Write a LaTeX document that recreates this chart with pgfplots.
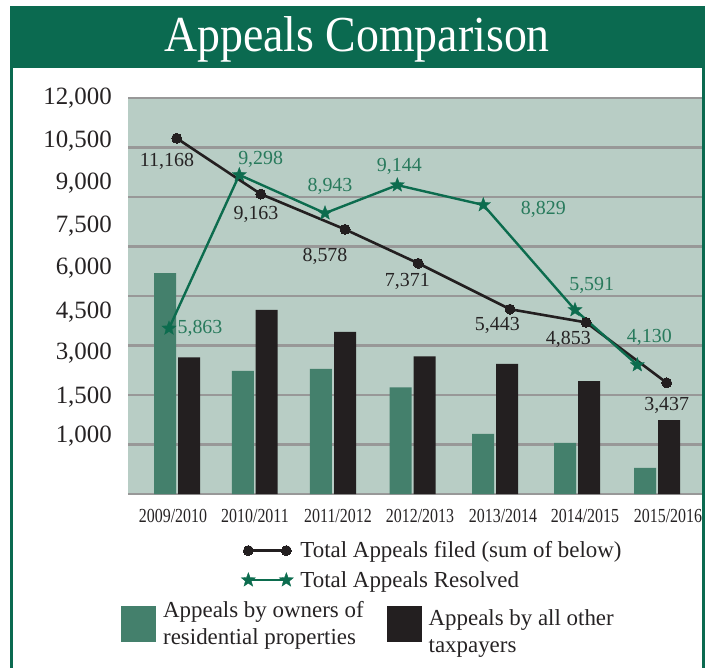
\documentclass[border=0pt]{standalone}
\usepackage{fontspec}
\setmainfont{Liberation Serif}
\usepackage{graphicx}
\usepackage{pgfplots}
\usepackage{pgfplotstable}
\pgfplotsset{compat=1.18}
\definecolor{banner}{RGB}{11,106,80}
\definecolor{plotbg}{RGB}{184,205,197}
\definecolor{gridc}{RGB}{152,152,152}
\definecolor{gbar}{RGB}{68,128,108}
\definecolor{bbar}{RGB}{35,31,32}
\definecolor{gline}{RGB}{12,108,78}
\definecolor{gtxt}{RGB}{40,122,92}
\definecolor{txt}{RGB}{38,35,36}

\pgfdeclareplotmark{fstar}{%
  \pgfpathmoveto{\pgfpointpolar{90}{\pgfplotmarksize}}%
  \pgfpathlineto{\pgfpointpolar{126}{0.42\pgfplotmarksize}}%
  \pgfpathlineto{\pgfpointpolar{162}{\pgfplotmarksize}}%
  \pgfpathlineto{\pgfpointpolar{198}{0.42\pgfplotmarksize}}%
  \pgfpathlineto{\pgfpointpolar{234}{\pgfplotmarksize}}%
  \pgfpathlineto{\pgfpointpolar{270}{0.42\pgfplotmarksize}}%
  \pgfpathlineto{\pgfpointpolar{306}{\pgfplotmarksize}}%
  \pgfpathlineto{\pgfpointpolar{342}{0.42\pgfplotmarksize}}%
  \pgfpathlineto{\pgfpointpolar{18}{\pgfplotmarksize}}%
  \pgfpathlineto{\pgfpointpolar{54}{0.42\pgfplotmarksize}}%
  \pgfpathclose
  \pgfusepathqfillstroke
}

% total appeals filed (line points)
\pgfplotstableread{
x y
176.7 10780
260.7 9090
345 8020
418.3 6990
510 5600
586 5200
666.7 3370
}\filed
% their value labels (label centres)
\pgfplotstableread{
x y label
167 10071 11,168
256 8475 9,163
325 7190 8,578
407.3 6432 7,371
497.3 5094 5,443
568.3 4685 4,853
666.7 2694 3,437
}\filedlab
% total appeals resolved
\pgfplotstableread{
x y
169 5020
239.3 9670
325 8510
397.3 9360
483.3 8760
575 5580
637.3 3910
}\resolved
\pgfplotstableread{
x y label
200 5020 5,863
260.7 10125 9,298
330 9316 8,943
399.3 9915 9,144
543.3 8639 8,829
591.7 6307 5,591
649.3 4749 4,130
}\resolvedlab
% residential owners
\pgfplotstableread{
x y
165 6690
242.8 3730
320.8 3790
400.5 3230
483 1820
565 1550
645 790
}\resid
% all other taxpayers
\pgfplotstableread{
x y
189 4140
266.7 5580
345 4910
424.5 4170
507 3940
589 3420
669 2240
}\other

\newcommand\xl[1]{\scalebox{0.8}[1]{#1}}

\begin{document}
\begin{tikzpicture}
\useasboundingbox (0bp,0bp) rectangle (705bp,-668bp);
\fill[white] (0bp,0bp) rectangle (705bp,-668bp);
\fill[banner] (10bp,-6bp) rectangle (705bp,-68bp);
\fill[banner] (10bp,-68bp) rectangle (13bp,-668bp);
\fill[banner] (702bp,-68bp) rectangle (705bp,-668bp);
\node[text=white, font=\fontsize{46}{50}\selectfont, anchor=base, inner sep=0pt] at (357bp,-51bp) {\scalebox{1}[1.1]{Appeals Comparison}};

\begin{axis}[
  at={(128bp,-494bp)}, anchor=south west,
  scale only axis, width=574bp, height=396bp,
  xmin=128, xmax=702, ymin=0, ymax=12000,
  scaled y ticks=false, scaled x ticks=false,
  clip=false,
  axis background/.style={fill=plotbg},
  axis line style={draw=none},
  major tick length=0pt,
  xtick={173,255,338,420,503,585,668},
  xticklabels={\xl{2009/2010},\xl{2010/2011},\xl{2011/2012},\xl{2012/2013},\xl{2013/2014},\xl{2014/2015},\xl{2015/2016}},
  xticklabel style={anchor=center, yshift=-22bp, inner sep=0pt, font=\fontsize{20}{22}\selectfont, text=txt},
  ytick={11990,10680,9420,8130,6840,5520,4260,2950,1740},
  yticklabels={{12,000},{10,500},{9,000},{7,500},{6,000},{4,500},{3,000},{1,500},{1,000}},
  yticklabel style={anchor=east, xshift=-16bp, inner sep=0pt, font=\fontsize{25}{28}\selectfont, text=txt},
  extra y ticks={0,1500,3000,4500,6000,7500,9000,10500,12000},
  extra y tick labels={},
  extra y tick style={grid=major, major grid style={draw=gridc, line width=2.6bp}},
  legend cell align=left,
  legend style={at={(0.1969,-0.180)}, anchor=west, draw=none, fill=none, inner sep=0pt,
    row sep=10bp, font=\fontsize{23}{26}\selectfont, nodes={inner sep=1bp, text=txt},
    /tikz/every odd column/.append style={column sep=6bp}},
  legend image code/.code={\draw[#1] plot coordinates {(0bp,0bp) (38bp,0bp)};},
  lab/.style={forget plot, only marks, mark=*, mark size=0pt, mark options={draw=none, fill=none},
    point meta=explicit symbolic, nodes near coords,
    every node near coord/.append style={anchor=center, font=\fontsize{20}{22}\selectfont, inner sep=0pt, text=#1}},
]
\addplot[ybar, bar shift=0pt, bar width=22bp, fill=gbar, draw=none, forget plot] table[x=x,y=y] {\resid};
\addplot[ybar, bar shift=0pt, bar width=22bp, fill=bbar, draw=none, forget plot] table[x=x,y=y] {\other};

\addplot[color=bbar, line width=2.6bp, mark=*, mark size=5bp, mark options={solid, fill=bbar, draw=bbar, line width=0pt}] table[x=x, y=y] {\filed};
\addlegendentry{Total Appeals filed (sum of below)}

\addplot[color=gline, line width=2.4bp, mark=fstar, mark size=7.5bp, mark options={solid, fill=gline, draw=gline, line width=0.3bp}] table[x=x, y=y] {\resolved};
\addlegendentry{Total Appeals Resolved}

\addplot[lab=txt] table[x=x, y=y, meta=label] {\filedlab};
\addplot[lab=gtxt] table[x=x, y=y, meta=label] {\resolvedlab};
\end{axis}

\begin{axis}[
  at={(0bp,-668bp)}, anchor=south west,
  scale only axis, width=705bp, height=668bp,
  hide axis, xmin=0, xmax=1, ymin=0, ymax=1,
  legend columns=2, legend cell align=left,
  legend style={at={(0.1716,0.0606)}, anchor=west, draw=none, fill=none, inner sep=0pt,
    font=\fontsize{23}{27}\selectfont, cells={align=left}, nodes={inner sep=1bp, text=txt},
    /tikz/every odd column/.append style={column sep=6bp},
    /tikz/every even column/.append style={column sep=22bp}},
  legend image code/.code={\fill[#1] (0bp,-18bp) rectangle (35bp,18bp);},
]
\addlegendimage{fill=gbar, draw=none}
\addlegendentry{Appeals by owners of\\residential properties}
\addlegendimage{fill=bbar, draw=none}
\addlegendentry[yshift=-8bp]{Appeals by all other\\taxpayers}
\end{axis}
\end{tikzpicture}
\end{document}
